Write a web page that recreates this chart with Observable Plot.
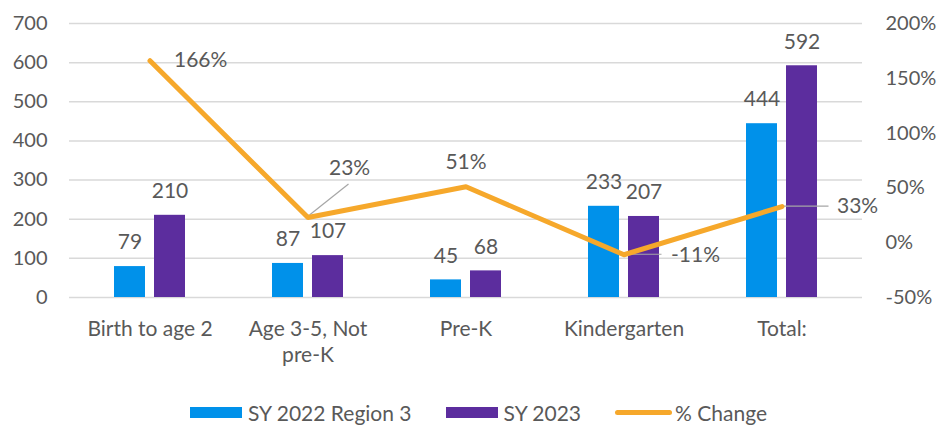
<!DOCTYPE html>
<html>
<head>
<meta charset="utf-8">
<script src="https://cdn.jsdelivr.net/npm/d3@7"></script>
<script src="https://cdn.jsdelivr.net/npm/@observablehq/plot@0.6"></script>
<style>
  html, body { margin: 0; padding: 0; background: #fff; }
  #wrap { width: 943px; font-family: Lato, sans-serif; color: #595959; }
  #legend { position: relative; height: 54px; display: flex; justify-content: center; align-items: center; padding-left: 14px; padding-top: 26px; box-sizing: border-box; font-size: 21px; }
  .item { display: flex; align-items: center; margin: 0 17px; }
  .sw { width: 52px; height: 11px; margin-right: 6px; }
  .ln { width: 57px; height: 5px; border-radius: 3px; margin-right: 3px; }
</style>
</head>
<body>
<div id="wrap">
  <div id="chart"></div>
  <div id="legend"></div>
</div>
<script>
// ---- data ----
const categories = ["Birth to age 2", "Age 3-5, Not\npre-K", "Pre-K", "Kindergarten", "Total:"];
const sy2022 = [79, 87, 45, 233, 444];
const sy2023 = [210, 107, 68, 207, 592];
const pctChange = [1.66, 0.23, 0.51, -0.11, 0.33];
const leftTicks = [0, 100, 200, 300, 400, 500, 600, 700];
const rightTicks = [-0.5, 0, 0.5, 1, 1.5, 2];
const seriesNames = ["SY 2022 Region 3", "SY 2023", "% Change"];

// ---- styles ----
const BLUE = "#0091ea";
const PURPLE = "#5c2d9e";
const ORANGE = "#f6a82b";
const TEXT = "#595959";
const GRID = "#d9d9d9";

// secondary axis mapping (-50%..200% onto 0..700)
const LMAX = 700, PMIN = -0.5, PMAX = 2;
const p2y = p => (p - PMIN) / (PMAX - PMIN) * LMAX;

const rows = categories.map((c, i) => ({
  cat: c, a: sy2022[i], b: sy2023[i], p: pctChange[i], py: p2y(pctChange[i])
}));

// label placement for % labels (pixel offsets), and leader lines
const pctPlace = [
  {dx: 24, dy: 0, anchor: "start"},
  {dx: 21, dy: -49, anchor: "start", leader: [2, -2, 41, -33]},
  {dx: 0, dy: -25, anchor: "middle"},
  {dx: 47, dy: 1, anchor: "start", leader: [0, 0, 38, 0]},
  {dx: 55, dy: 0, anchor: "start", leader: [0, 0, 47, 0]}
];

const pctFmt = p => Math.round(p * 100) + "%";

const marks = [
  Plot.gridY(leftTicks, {stroke: GRID, strokeOpacity: 1, strokeWidth: 1.5}),
  Plot.axisY(leftTicks, {anchor: "left", tickSize: 0, tickPadding: 22, fill: TEXT, fontSize: 20, label: null}),
  Plot.axisY(rightTicks.map(p2y), {anchor: "right", tickSize: 0, tickPadding: 23, fill: TEXT, fontSize: 20, label: null,
    tickFormat: (v) => pctFmt(rightTicks[rightTicks.map(p2y).indexOf(v)])}),
  Plot.axisX({tickSize: 0, tickPadding: 21, fill: TEXT, fontSize: 21, lineHeight: 1.2, label: null}),
  Plot.barY(rows, {x: "cat", y: "a", fill: BLUE, dx: -20}),
  Plot.barY(rows, {x: "cat", y: "b", fill: PURPLE, dx: 20}),
  Plot.text(rows, {x: "cat", y: "a", text: d => String(d.a), dx: -20, dy: -24, fill: TEXT, fontSize: 21}),
  Plot.text(rows, {x: "cat", y: "b", text: d => String(d.b), dx: 20, dy: -24, fill: TEXT, fontSize: 21}),
  Plot.line(rows, {x: "cat", y: "py", stroke: ORANGE, strokeWidth: 5, strokeLinecap: "round", strokeLinejoin: "round"}),
  ...rows.map((r, i) => Plot.text([r], {x: "cat", y: "py", text: d => pctFmt(d.p),
    dx: pctPlace[i].dx, dy: pctPlace[i].dy, textAnchor: pctPlace[i].anchor, fill: TEXT, fontSize: 21}))
];

const chart = Plot.plot({
  width: 943,
  height: 372,
  marginTop: 23,
  marginBottom: 75,
  marginLeft: 69,
  marginRight: 81,
  style: {fontFamily: "Lato, sans-serif", fontSize: "20px", color: TEXT, background: "#fff", overflow: "visible"},
  x: {domain: categories, paddingInner: 0.801, paddingOuter: 0.4005, align: 0.5, axis: null},
  y: {domain: [0, LMAX], axis: null},
  marks
});

// leader lines drawn with the chart's own scales
const xs = chart.scale("x"), ys = chart.scale("y");
const svg = d3.select(chart.tagName.toLowerCase() === "svg" ? chart : chart.querySelector("svg"));
const g = svg.append("g");
rows.forEach((r, i) => {
  const L = pctPlace[i].leader;
  if (!L) return;
  const px = xs.apply(r.cat) + xs.bandwidth / 2;
  const py = ys.apply(r.py);
  g.append("line")
    .attr("x1", px + L[0]).attr("y1", py + L[1])
    .attr("x2", px + L[2]).attr("y2", py + L[3])
    .attr("stroke", "#a6a6a6").attr("stroke-width", 1.2);
});
// keep line above leader lines
svg.node().appendChild(svg.node().querySelector("g[aria-label='line']") || g.node());
// raise % labels above the line
svg.selectAll("g[aria-label='text']").each(function() { this.parentNode.appendChild(this); });

document.getElementById("chart").appendChild(chart);

// legend
const legend = d3.select("#legend");
const colors = [BLUE, PURPLE, ORANGE];
seriesNames.forEach((name, i) => {
  const it = legend.append("div").attr("class", "item");
  it.append("div").attr("class", i === 2 ? "ln" : "sw").style("background", colors[i]);
  it.append("span").text(name);
});
</script>
</body>
</html>
